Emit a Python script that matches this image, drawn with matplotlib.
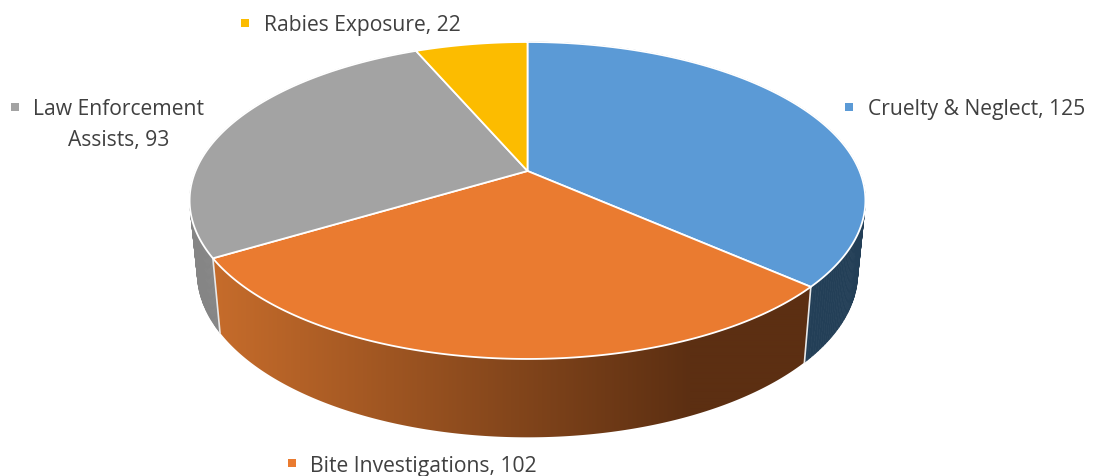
"""Perspective 3D pie of animal control calls.
"""

import matplotlib
matplotlib.use("Agg")
import matplotlib.pyplot as plt
import numpy as np
from matplotlib.colors import to_rgb
from matplotlib.patches import Polygon

labels = ["Cruelty & Neglect", "Bite Investigations", "Law Enforcement\nAssists", "Rabies Exposure"]
values = [125, 102, 93, 22]
colors = ["#5b9ad6", "#ea7b30", "#a3a3a3", "#fcbc00"]

# position of each label: marker x, marker y, text x, text baseline y
label_pos = [
    (849, 107, 868, 115),
    (292, 463, 310, 472),
    (15, 107, 118.5, 115),
    (245, 23, 264, 31),
]

# pixel geometry of the pie, fitted to the perspective of the reference
CX = 527.5
K = 0.186
TOP = (332.0, 153.0, 171.0)
BOTTOM = (324.5, 159.0, 242.0)


def project(theta: np.ndarray, radius: tuple) -> tuple[np.ndarray, np.ndarray]:
    """Map clockwise-from-top angles on the disc to picture pixels."""
    a, b, cy = radius
    u, v = np.sin(theta), np.cos(theta)
    w = 1 + K * v
    return CX + a * u / w, cy - b * v / w


def orange_wall(ax: plt.Axes, th: np.ndarray) -> None:
    """Front wall with its left to right gradient."""
    x0, y0 = project(th, TOP)
    x1, y1 = project(th, BOTTOM)
    pts = list(zip(x0, y0)) + list(zip(x1[::-1], y1[::-1]))
    px = np.arange(200, 830)
    t = np.clip((px - 214) / (690 - 214), 0, 1)[None, :, None]
    c0, c1 = np.array(to_rgb("#c66c2b")), np.array(to_rgb("#5c2f12"))
    img = ax.imshow(c0 + (c1 - c0) * t, extent=(200, 830, 450, 240), aspect="auto",
                    interpolation="bilinear", zorder=2)
    clip = Polygon(pts, transform=ax.transData, facecolor="none", edgecolor="none")
    ax.add_patch(clip)
    img.set_clip_path(clip)


def plain_wall(ax: plt.Axes, th: np.ndarray, col: str) -> None:
    """Wall in one colour, strip by strip so it follows the outline."""
    x0, y0 = project(th, TOP)
    x1, y1 = project(th, BOTTOM)
    for j in range(len(th) - 1):
        pts = [(x0[j], y0[j]), (x0[j + 1], y0[j + 1]), (x1[j + 1], y1[j + 1]), (x1[j], y1[j])]
        ax.add_patch(Polygon(pts, facecolor=col, edgecolor=col, lw=0.5, zorder=2))


def main() -> None:
    fig = plt.figure(figsize=(10.94, 4.76), dpi=100)
    ax = fig.add_axes([0, 0, 1, 1])

    edges = np.concatenate([[0], np.cumsum(values)]) / sum(values) * 2 * np.pi

    # side walls first, the top faces cover whatever is hidden
    plain_wall(ax, np.linspace(edges[2], edges[3], 160), "#858585")
    plain_wall(ax, np.linspace(edges[0], edges[1], 160), "#233f57")
    orange_wall(ax, np.linspace(edges[1], edges[2], 200))

    # white seams where the walls of two slices meet
    for i in [1, 2]:
        x0, y0 = project(edges[i:i + 1], TOP)
        x1, y1 = project(edges[i:i + 1], BOTTOM)
        ax.plot([x0[0], x1[0]], [y0[0], y1[0]], color="#e8e8e8", lw=1.2, zorder=3)

    # top faces
    for i in range(len(values)):
        th = np.linspace(edges[i], edges[i + 1], 160)
        x, y = project(th, TOP)
        pts = [(CX, TOP[2])] + list(zip(x, y))
        ax.add_patch(Polygon(pts, facecolor=colors[i], edgecolor="white", lw=1.3, joinstyle="round", zorder=4))

    for i in range(len(values)):
        mx, my, tx, ty = label_pos[i]
        ax.plot([mx], [my], marker="s", ms=5.6, color=colors[i], mew=0, zorder=5)
        lines = f"{labels[i]}, {values[i]}".split("\n")
        for n, line in enumerate(lines):
            ax.text(tx, ty + n * 31, line, fontsize=15.2, family="Open Sans", color="#404040",
                    ha="center" if len(lines) > 1 else "left", va="baseline", zorder=5)

    ax.set_xlim(0, 1094)
    ax.set_ylim(476, 0)
    ax.axis("off")
    plt.savefig("out.png", dpi=100)
    plt.close()


if __name__ == "__main__":
    main()
